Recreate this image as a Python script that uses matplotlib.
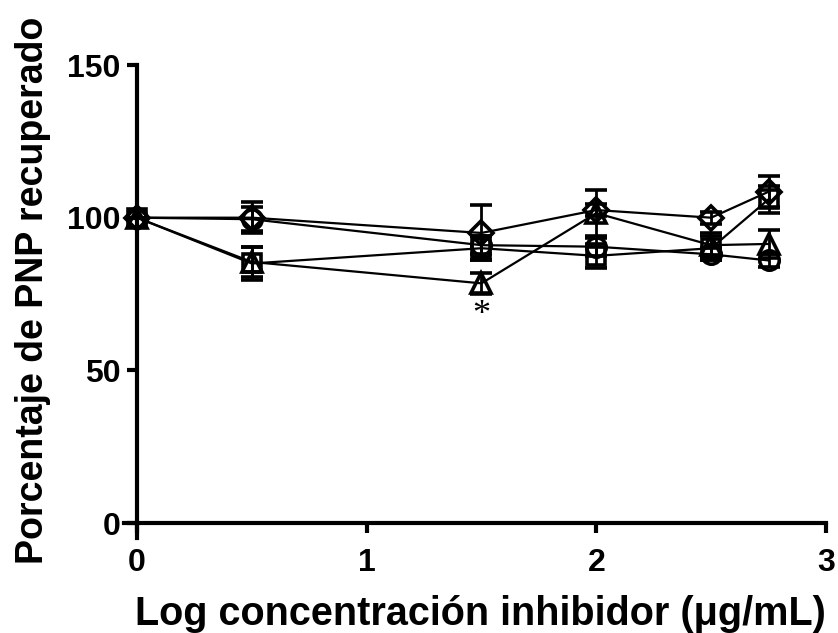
import matplotlib.pyplot as plt

plt.rcParams['font.family'] = ['Liberation Sans', 'DejaVu Sans']

# data
x = [0, 0.5, 1.5, 2, 2.5, 2.75]
circles = [100, 99.5, 91, 90.5, 88, 86]
circles_err = [0, 4, 3, 3, 2, 2]
squares = [100, 85, 90, 87.5, 90, 106]
squares_err = [0, 5.5, 4, 4, 4, 4.5]
triangles = [100, 85.5, 78.5, 101.5, 91, 91.4]
triangles_err = [0, 5, 3.5, 7.5, 4, 4.5]
diamonds = [100, 100, 95, 102.5, 100, 108.5]
diamonds_err = [0, 5, 9, 2, 2, 5]

star_x = 1.5
star_y = 68

fig = plt.figure(figsize=(8.38, 6.33), dpi=100)
ax = fig.add_axes([0.1484, 0.1496, 0.8372, 0.7477])

series = [(circles, circles_err, 'o', 14),
          (squares, squares_err, 's', 13),
          (triangles, triangles_err, '^', 14),
          (diamonds, diamonds_err, 'D', 12)]

for y, err, m, ms in series:
    ax.errorbar(x, y, yerr=err, fmt='-', marker=m, color='black', mfc='none',
                mec='black', ms=ms, mew=2.6, lw=1.6, elinewidth=2, capsize=8,
                capthick=2.5, clip_on=False, zorder=3)

ax.text(star_x, star_y, '*', ha='center', va='center', fontsize=26,
        family='Liberation Serif')

ax.set_xlim(-0.055, 3)
ax.set_ylim(-5, 150)
ax.spines['left'].set_position(('data', 0))
ax.spines['bottom'].set_position(('data', 0))
ax.spines['top'].set_visible(False)
ax.spines['right'].set_visible(False)
for s in ['left', 'bottom']:
    ax.spines[s].set_linewidth(3)

ax.set_xticks([0, 1, 2, 3])
ax.set_yticks([0, 50, 100, 150])
ax.tick_params(width=3, length=7, labelsize=23)
ax.tick_params(axis='x', pad=11)
ax.tick_params(axis='y', pad=5)
for lab in ax.get_xticklabels() + ax.get_yticklabels():
    lab.set_fontweight('bold')

ax.set_xlabel('Log concentración inhibidor (μg/mL)', fontsize=28.5,
              fontweight='bold', labelpad=12)
ax.xaxis.set_label_coords(0.508, -0.12)
ax.xaxis.label.set_va('top')
ax.set_ylabel('Porcentaje de PNP recuperado', fontsize=27, fontweight='bold')
ax.yaxis.set_label_coords(-0.105, 0.525)

fig.savefig('out.png', dpi=100)
